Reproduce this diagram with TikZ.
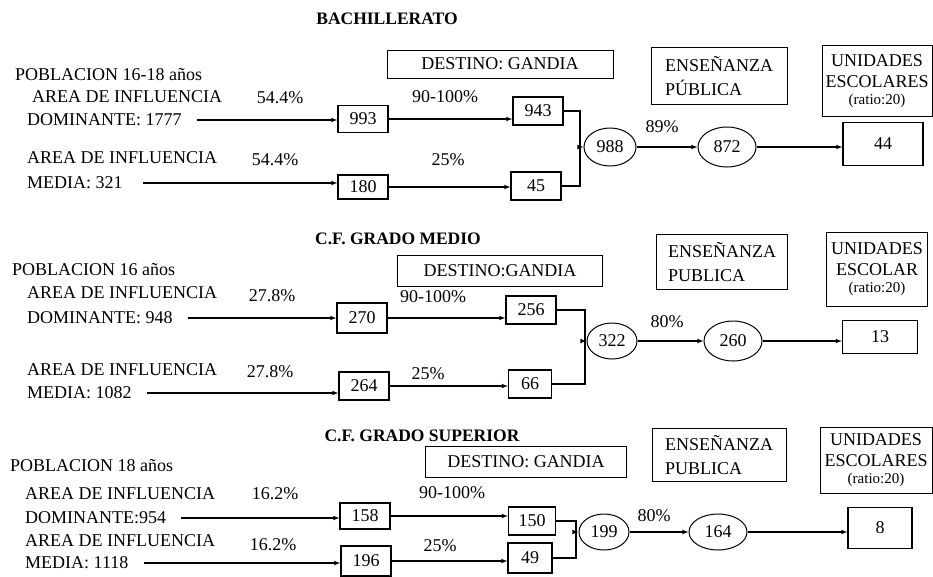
\documentclass[tikz,border=0pt]{standalone}
\usepackage{fontspec}
\setmainfont{Liberation Serif}
\usetikzlibrary{shapes.geometric}
\tikzset{
  caja/.style={draw, line width=1.3pt, minimum width=50, minimum height=27, inner sep=1pt},
  elipse/.style={draw, ellipse, line width=1pt, minimum width=52, minimum height=38, inner sep=0pt},
  rotulo/.style={draw, line width=0.8pt, align=left, inner sep=2pt},
  unidad/.style={draw, line width=0.8pt, align=center, inner sep=1pt},
  texto/.style={anchor=west, inner sep=0pt},
  titulo/.style={font=\fontsize{17.5}{19}\selectfont\bfseries},
  flecha/.style={->, >=latex, line width=1.1pt},
  linea/.style={line width=1.1pt}
}
\newcommand{\ratio}{{\fontsize{15}{16}\selectfont (ratio:20)}}
\begin{document}
\begin{tikzpicture}[x=1pt, y=-1pt, font=\fontsize{18}{21}\selectfont]
\useasboundingbox (0,0) rectangle (933,576);

% bachillerato
\node[titulo] (tit1) at (387,19) {BACHILLERATO};
\node[texto] (pob1) at (15,75) {POBLACION 16-18 años};
\node[texto] (ad1) at (32,97) {AREA DE INFLUENCIA};
\node[texto] (dom1) at (27,120) {DOMINANTE: 1777};
\node[texto] (am1) at (27,158) {AREA DE INFLUENCIA};
\node[texto] (med1) at (27,183) {MEDIA: 321};
\node (pd1) at (280,98) {54.4\%};
\node (pm1) at (275,160) {54.4\%};
\node[caja] (b993) at (363,119) {993};
\node[caja, minimum height=24] (b180) at (363,187) {180};
\node (p90a) at (445,97) {90-100\%};
\node (p25a) at (448,160) {25\%};
\node[caja, minimum height=28] (b943) at (538,111) {943};
\node[caja, minimum height=28] (b45) at (536,186) {45};
\node[rotulo, minimum width=226, minimum height=28] (des1) at (500,64) {DESTINO: GANDIA};
\coordinate (j1) at (580,147);
\node[elipse] (e988) at (610,147) {988};
\node (p89) at (662,127) {89\%};
\node[elipse, minimum width=58, minimum height=40] (e872) at (727,147) {872};
\node[rotulo, minimum width=136, minimum height=57] (ens1) at (719,76) {ENSEÑANZA\\[3pt]PÚBLICA};
\node[unidad, minimum width=110, minimum height=71] (uni1) at (877,81) {UNIDADES\\ESCOLARES\\[-4pt]\ratio};
\node[caja, minimum width=80, minimum height=43] (b44) at (883,144) {44};
\draw[flecha, shorten <=15pt] (dom1.east) -- (dom1.east -| b993.west);
\draw[flecha, shorten <=20pt] (med1.east) -- (med1.east -| b180.west);
\draw[flecha] (b993.east) -- (b993.east -| b943.west);
\draw[flecha] (b180.east) -- (b180.east -| b45.west);
\draw[linea] (b943.east) -| (j1) |- (b45.east);
\draw[flecha] (j1) -- (e988);
\draw[flecha] (e988) -- (e872);
\draw[flecha] (e872.east) -- (e872.east -| b44.west);

% grado medio
\node[titulo] (tit2) at (398,239) {C.F. GRADO MEDIO};
\node[texto] (pob2) at (12,270) {POBLACION 16 años};
\node[texto] (ad2) at (27,293) {AREA DE INFLUENCIA};
\node[texto] (dom2) at (27,318) {DOMINANTE: 948};
\node[texto] (am2) at (27,370) {AREA DE INFLUENCIA};
\node[texto] (med2) at (27,393) {MEDIA: 1082};
\node (pd2) at (272,296) {27.8\%};
\node (pm2) at (270,372) {27.8\%};
\node[caja, minimum height=30] (b270) at (362,318) {270};
\node[caja, minimum height=28] (b264) at (364,386) {264};
\node (p90b) at (433,297) {90-100\%};
\node (p25b) at (428,374) {25\%};
\node[caja, minimum height=28] (b256) at (531,310) {256};
\node[caja, minimum width=43, minimum height=28] (b66) at (530,384) {66};
\node[rotulo, minimum width=205, minimum height=31] (des2) at (500,271) {DESTINO:GANDIA};
\coordinate (j2) at (585,341);
\node[elipse, minimum width=50, minimum height=36] (e322) at (612,341) {322};
\node (p80b) at (667,322) {80\%};
\node[elipse, minimum width=58, minimum height=40] (e260) at (733,341) {260};
\node[rotulo, minimum width=131, minimum height=55] (ens2) at (722,262) {ENSEÑANZA\\[3pt]PUBLICA};
\node[unidad, minimum width=101, minimum height=74] (uni2) at (877,269) {UNIDADES\\ESCOLAR\\[-4pt]\ratio};
\node[caja, minimum width=75, minimum height=33] (b13) at (880,337) {13};
\draw[flecha, shorten <=15pt] (dom2.east) -- (dom2.east -| b270.west);
\draw[flecha, shorten <=15pt] (med2.east) -- (med2.east -| b264.west);
\draw[flecha] (b270.east) -- (b270.east -| b256.west);
\draw[flecha] (b264.east) -- (b264.east -| b66.west);
\draw[linea] (b256.east) -| (j2) |- (b66.east);
\draw[flecha] (j2) -- (e322);
\draw[flecha] (e322) -- (e260);
\draw[flecha] (e260.east) -- (e260.east -| b13.west);

% grado superior
\node[titulo] (tit3) at (422,436) {C.F. GRADO SUPERIOR};
\node[texto] (pob3) at (10,466) {POBLACION 18 años};
\node[texto] (ad3) at (25,494) {AREA DE INFLUENCIA};
\node[texto] (dom3) at (25,518) {DOMINANTE:954};
\node[texto] (am3) at (25,541) {AREA DE INFLUENCIA};
\node[texto] (med3) at (25,563) {MEDIA: 1118};
\node (pd3) at (275,494) {16.2\%};
\node (pm3) at (273,545) {16.2\%};
\node[caja, minimum height=26] (b158) at (365,516) {158};
\node[caja, minimum height=30] (b196) at (366,561) {196};
\node (p90c) at (452,493) {90-100\%};
\node (p25c) at (440,546) {25\%};
\node[caja, minimum width=47, minimum height=28] (b150) at (532,521) {150};
\node[caja, minimum width=44, minimum height=30] (b49) at (530,558) {49};
\node[rotulo, minimum width=201, minimum height=31] (des3) at (526,462) {DESTINO: GANDIA};
\coordinate (j3) at (576,532);
\node[elipse, minimum width=50, minimum height=36] (e199) at (604,532) {199};
\node (p80c) at (654,516) {80\%};
\node[elipse, minimum width=58, minimum height=36] (e164) at (718,532) {164};
\node[rotulo, minimum width=134, minimum height=53] (ens3) at (719,455) {ENSEÑANZA\\[3pt]PUBLICA};
\node[unidad, minimum width=112, minimum height=66] (uni3) at (876,460) {UNIDADES\\ESCOLARES\\[-4pt]\ratio};
\node[caja, minimum width=64, minimum height=41] (b8) at (880,528) {8};
\draw[flecha, shorten <=15pt] (dom3.east) -- (dom3.east -| b158.west);
\draw[flecha, shorten <=15pt] (med3.east) -- (med3.east -| b196.west);
\draw[flecha] (b158.east) -- (b158.east -| b150.west);
\draw[flecha] (b196.east) -- (b196.east -| b49.west);
\draw[linea] (b150.east) -| (j3) |- (b49.east);
\draw[flecha] (j3) -- (e199);
\draw[flecha] (e199) -- (e164);
\draw[flecha] (e164.east) -- (e164.east -| b8.west);
\end{tikzpicture}
\end{document}
